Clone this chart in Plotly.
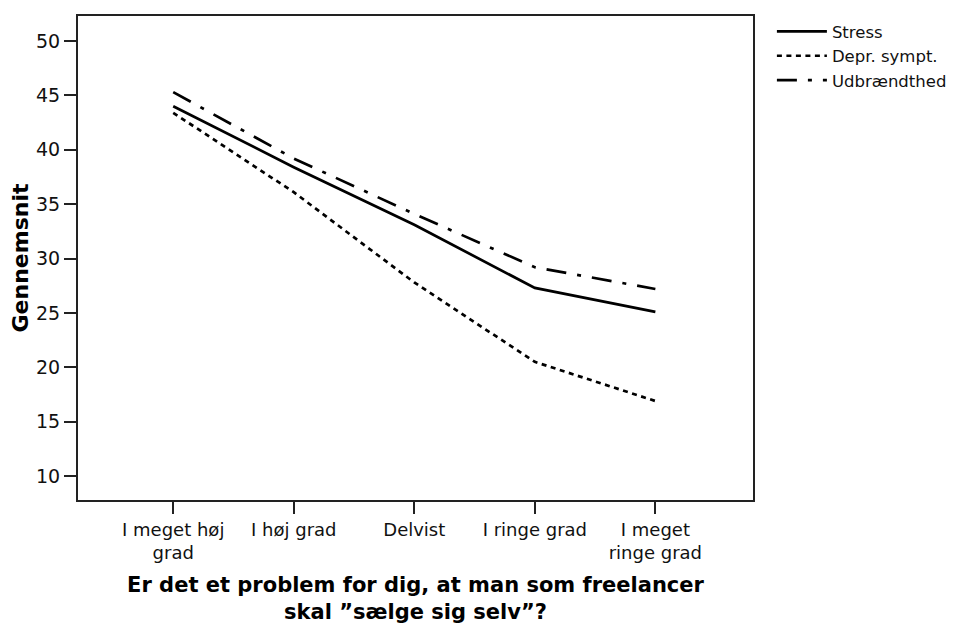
import plotly.graph_objects as go

categories = ["I meget høj<br>grad", "I høj grad", "Delvist", "I ringe grad", "I meget<br>ringe grad"]
stress = [44.0, 38.4, 33.1, 27.3, 25.1]
depr = [43.4, 36.1, 27.8, 20.5, 16.9]
udbraendthed = [45.3, 39.2, 34.1, 29.2, 27.2]
y_ticks = [10, 15, 20, 25, 30, 35, 40, 45, 50]

FONT = "DejaVu Sans, Liberation Sans, Arial, sans-serif"
xs = list(range(len(categories)))

fig = go.Figure()
fig.add_trace(go.Scatter(x=xs, y=stress, mode="lines", name="Stress",
                         line=dict(color="black", width=2.7)))
fig.add_trace(go.Scatter(x=xs, y=depr, mode="lines", name="Depr. sympt.",
                         line=dict(color="black", width=2.7, dash="5px,4.5px")))
fig.add_trace(go.Scatter(x=xs, y=udbraendthed, mode="lines", name="Udbrændthed",
                         line=dict(color="black", width=2.7, dash="20px,11px,4px,11px")))

fig.update_layout(
    width=957, height=616,
    margin=dict(l=70, r=212, t=6, b=124),
    plot_bgcolor="white", paper_bgcolor="white",
    font=dict(family=FONT, color="#111", size=18),
    showlegend=True,
    legend=dict(x=1.028, y=1.004, xanchor="left", yanchor="top",
                itemwidth=50,
                font=dict(family=FONT, size=16.5, color="#111"),
                bgcolor="rgba(0,0,0,0)", borderwidth=0),
    xaxis=dict(
        range=[-0.79, 4.81], tickmode="array", tickvals=xs, ticktext=categories,
        showline=True, mirror=True, linecolor="#222", linewidth=2,
        ticks="outside", ticklen=12, tickwidth=2, tickcolor="#222",
        showgrid=False, zeroline=False, automargin=False,
        tickfont=dict(family=FONT, size=18, color="#111"),
        title=dict(text="<b>Er det et problem for dig, at man som freelancer<br>skal \u201dsælge sig selv\u201d?</b>",
                   font=dict(family=FONT, size=21, color="#000"), standoff=17),
    ),
    yaxis=dict(
        range=[7.8, 52.3], tickmode="array", tickvals=y_ticks,
        showline=True, mirror=True, linecolor="#222", linewidth=2,
        ticks="outside", ticklen=12, tickwidth=2, tickcolor="#222",
        showgrid=False, zeroline=False, automargin=False,
        tickfont=dict(family=FONT, size=19, color="#111"),
        title=dict(text="<b>Gennemsnit</b>", font=dict(family=FONT, size=22, color="#000"), standoff=5),
    ),
)

fig.write_html("out.html")
